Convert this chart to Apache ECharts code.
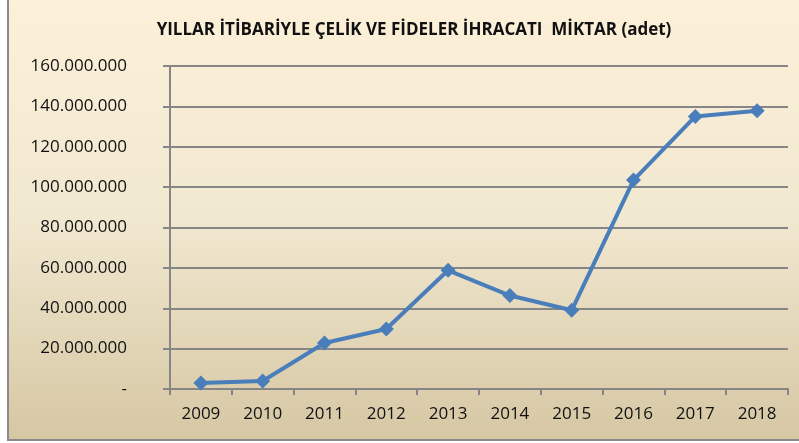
<!DOCTYPE html>
<html lang="tr">
<head>
<meta charset="UTF-8">
<title>Çelik ve fideler ihracatı</title>
<script src="https://cdn.jsdelivr.net/npm/echarts@6/dist/echarts.min.js"></script>
<style>
  html, body { margin: 0; padding: 0; background: #fff; }
  #main { width: 799px; height: 443px; }
</style>
</head>
<body>
<div id="main"></div>
<script type="text/javascript">
// yıllar ve ihracat miktarı (adet)
var years = ['2009', '2010', '2011', '2012', '2013', '2014', '2015', '2016', '2017', '2018'];
var amounts = [3000000, 4000000, 22800000, 29700000, 58800000, 46300000, 39000000, 103500000, 135000000, 137800000];

var yMin = 0, yMax = 160000000, yStep = 20000000;

function fmt(v) {
  if (v === 0) return '-';
  return String(v).replace(/\B(?=(\d{3})+(?!\d))/g, '.');
}

var myChart = echarts.init(document.getElementById('main'));

var option = {
  backgroundColor: '#fff',
  animation: false,
  graphic: [{
    type: 'rect',
    z: -10,
    shape: { x: 8, y: -4, width: 800, height: 444 },
    style: {
      fill: new echarts.graphic.LinearGradient(0, 0, 0, 1, [
        { offset: 0, color: '#fdf0d9' },
        { offset: 0.5, color: '#f1e8d0' },
        { offset: 1, color: '#d6c7a3' }
      ]),
      stroke: '#8a8a8a',
      lineWidth: 2
    }
  }],
  title: {
    text: 'YILLAR İTİBARİYLE ÇELİK VE FİDELER İHRACATI  MİKTAR (adet)',
    left: 409,
    top: 17,
    textAlign: 'center',
    textStyle: {
      fontFamily: 'Open Sans',
      fontWeight: 'bold',
      fontSize: 17,
      color: '#111'
    }
  },
  grid: { left: 170, right: 11, top: 66, bottom: 54 },
  xAxis: {
    type: 'category',
    data: years,
    boundaryGap: true,
    axisLine: { lineStyle: { color: '#868686', width: 2 } },
    axisTick: { show: true, length: 6, lineStyle: { color: '#868686', width: 2 } },
    axisLabel: { margin: 17, fontFamily: 'Open Sans', fontSize: 17, color: '#111' },
    splitLine: { show: false }
  },
  yAxis: {
    type: 'value',
    min: yMin,
    max: yMax,
    interval: yStep,
    axisLine: { show: true, lineStyle: { color: '#868686', width: 2 } },
    axisTick: { show: true, length: 7, lineStyle: { color: '#868686', width: 2 } },
    axisLabel: {
      margin: 43,
      fontFamily: 'Open Sans',
      fontSize: 17,
      color: '#111',
      formatter: fmt
    },
    splitLine: { show: true, lineStyle: { color: '#868686', width: 2 } }
  },
  series: [{
    type: 'line',
    data: amounts,
    symbol: 'diamond',
    symbolSize: 15,
    lineStyle: { color: '#4a7ebb', width: 4 },
    itemStyle: { color: '#4a7ebb' }
  }]
};

myChart.setOption(option);
</script>
</body>
</html>
